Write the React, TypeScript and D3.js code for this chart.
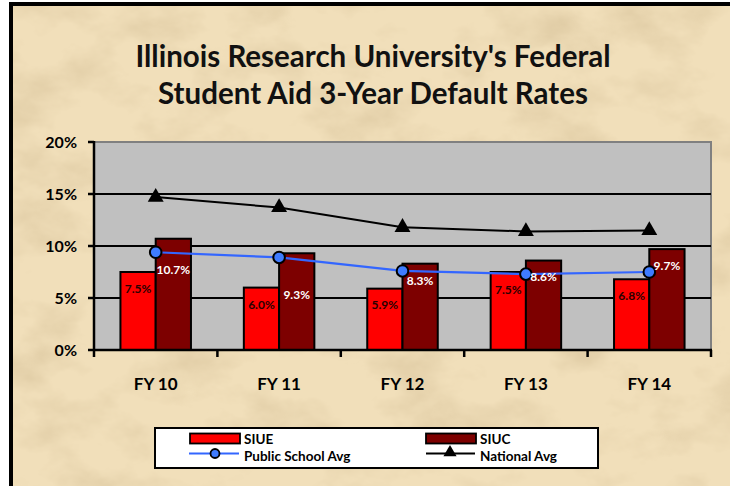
import React, { useEffect } from "react";
import * as d3 from "d3";

const categories = ["FY 10", "FY 11", "FY 12", "FY 13", "FY 14"];
const siue = [7.5, 6.0, 5.9, 7.5, 6.8];
const siuc = [10.7, 9.3, 8.3, 8.6, 9.7];
const publicAvg = [9.4, 8.9, 7.6, 7.3, 7.5];
const nationalAvg = [14.7, 13.7, 11.8, 11.4, 11.5];
const yTicks = [0, 5, 10, 15, 20];
const titleLines = ["Illinois Research University's Federal", "Student Aid 3-Year Default Rates"];
// label placement (styling): distance of label centre below bar top
const siueLabelDrop = [16, 17, 16, 17, 16];
const siucLabelDrop = [31, 41, 17, 16, 16];

const W = 730;
const H = 486;
const plot = { left: 94, right: 711, top: 142, bottom: 350 };
const FONT = "Lato, 'Open Sans', sans-serif";

export default function App() {
  useEffect(() => {
    document.body.style.margin = "0";
  }, []);

  const x = d3
    .scaleBand<string>()
    .domain(categories)
    .range([plot.left, plot.right])
    .paddingInner(1.5 / 3.5)
    .paddingOuter(0.75 / 3.5);
  const xs = d3.scaleBand<string>().domain(["SIUE", "SIUC"]).range([0, x.bandwidth()]);
  const y = d3.scaleLinear().domain([0, 20]).range([plot.bottom, plot.top]);
  const cx = (c: string) => (x(c) as number) + x.bandwidth() / 2;

  const line = d3
    .line<number>()
    .x((_, i) => cx(categories[i]))
    .y((d) => y(d));

  const boundaries = d3.range(categories.length + 1).map((i) => plot.left + i * x.step());
  const tri = d3.symbol().type(d3.symbolTriangle).size(110)();
  const legendTri = d3.symbol().type(d3.symbolTriangle).size(75)();

  return (
    <svg
      width={W}
      height={H}
      style={{ display: "block", position: "absolute", left: 0, top: 0 }}
      fontFamily={FONT}
      fontWeight={700}
    >
      <defs>
        <filter id="paper" x="0" y="0" width="100%" height="100%">
          <feTurbulence type="fractalNoise" baseFrequency="0.013 0.02" numOctaves={5} seed={7} result="n" />
          <feColorMatrix
            in="n"
            type="matrix"
            values="0 0 0 0 0.70  0 0 0 0 0.56  0 0 0 0 0.34  1.7 0 0 0 -0.78"
          />
        </filter>
      </defs>
      <rect x={0} y={0} width={W} height={H} fill="#f1dfba" />
      <rect x={0} y={0} width={W} height={H} fill="#000" filter="url(#paper)" />
      {/* outer border */}
      <rect x={0} y={0} width={9} height={H} fill="#fff" />
      <rect x={0} y={0} width={W} height={2} fill="#fff" />
      <rect x={9} y={2} width={4} height={H} fill="#000" />
      <rect x={9} y={2} width={W} height={4} fill="#000" />

      {/* title */}
      {titleLines.map((t, i) => (
        <text key={t} x={373} y={67 + i * 37} textAnchor="middle" fontSize={29.5} fill="#111">
          {t}
        </text>
      ))}

      {/* plot area */}
      <rect
        x={plot.left}
        y={plot.top}
        width={plot.right - plot.left}
        height={plot.bottom - plot.top}
        fill="#c0c0c0"
        stroke="#808080"
        strokeWidth={2}
      />
      {yTicks
        .filter((t) => t > 0 && t < 20)
        .map((t) => (
          <line key={t} x1={plot.left} x2={plot.right} y1={y(t)} y2={y(t)} stroke="#000" strokeWidth={2} />
        ))}

      {/* bars */}
      {categories.map((c, i) => (
        <g key={c}>
          <rect
            x={(x(c) as number) + (xs("SIUE") as number)}
            y={y(siue[i])}
            width={xs.bandwidth()}
            height={y(0) - y(siue[i])}
            fill="#ff0000"
            stroke="#000"
            strokeWidth={2}
          />
          <rect
            x={(x(c) as number) + (xs("SIUC") as number)}
            y={y(siuc[i])}
            width={xs.bandwidth()}
            height={y(0) - y(siuc[i])}
            fill="#7d0000"
            stroke="#000"
            strokeWidth={2}
          />
        </g>
      ))}

      {/* axes */}
      <line x1={plot.left} x2={plot.left} y1={plot.top - 1} y2={plot.bottom + 1} stroke="#000" strokeWidth={2.5} />
      <line x1={plot.left - 1} x2={plot.right + 1} y1={plot.bottom} y2={plot.bottom} stroke="#000" strokeWidth={2.5} />
      {yTicks.map((t) => (
        <g key={t}>
          <line x1={plot.left - 6} x2={plot.left} y1={y(t)} y2={y(t)} stroke="#000" strokeWidth={2.5} />
          <text x={77} y={y(t) + 6} textAnchor="end" fontSize={16} fill="#000">
            {t}%
          </text>
        </g>
      ))}
      {boundaries.map((b, i) => (
        <line key={i} x1={b} x2={b} y1={plot.bottom} y2={plot.bottom + 7} stroke="#000" strokeWidth={2.5} />
      ))}
      {categories.map((c) => (
        <text key={c} x={cx(c)} y={390} textAnchor="middle" fontSize={17} fill="#000">
          {c}
        </text>
      ))}

      {/* lines */}
      <path d={line(nationalAvg) as string} fill="none" stroke="#000" strokeWidth={2} />
      {nationalAvg.map((v, i) => (
        <path key={i} d={tri as string} transform={`translate(${cx(categories[i])},${y(v)})`} fill="#000" />
      ))}
      <path d={line(publicAvg) as string} fill="none" stroke="#3366ff" strokeWidth={2.2} />
      {publicAvg.map((v, i) => (
        <circle key={i} cx={cx(categories[i])} cy={y(v)} r={5.8} fill="#3f7cff" stroke="#000" strokeWidth={2} />
      ))}

      {/* data labels */}
      {categories.map((c, i) => (
        <g key={c} fontSize={12} textAnchor="middle">
          <text
            x={(x(c) as number) + (xs("SIUE") as number) + xs.bandwidth() / 2}
            y={y(siue[i]) + siueLabelDrop[i] + 4.5}
            fill="#2a0000"
          >
            {siue[i].toFixed(1)}%
          </text>
          <text
            x={(x(c) as number) + (xs("SIUC") as number) + xs.bandwidth() / 2}
            y={y(siuc[i]) + siucLabelDrop[i] + 4.5}
            fill="#fff"
          >
            {siuc[i].toFixed(1)}%
          </text>
        </g>
      ))}

      {/* legend */}
      <rect x={155} y={428} width={443} height={40} fill="#fff" stroke="#000" strokeWidth={2} />
      <rect x={190} y={433.5} width={50} height={10} fill="#ff0000" stroke="#000" strokeWidth={1.8} />
      <text x={244} y={444} fontSize={13.5} fill="#000">SIUE</text>
      <line x1={189} x2={239} y1={453.5} y2={453.5} stroke="#3366ff" strokeWidth={2} />
      <circle cx={215} cy={453.5} r={4.5} fill="#3f7cff" stroke="#000" strokeWidth={1.8} />
      <text x={244} y={460.5} fontSize={13.5} fill="#000">Public School Avg</text>
      <rect x={426} y={433.5} width={50} height={10} fill="#7d0000" stroke="#000" strokeWidth={1.8} />
      <text x={480} y={444} fontSize={13.5} fill="#000">SIUC</text>
      <line x1={426} x2={475} y1={453.5} y2={453.5} stroke="#000" strokeWidth={2} />
      <path d={legendTri as string} transform={`translate(450,452.5)`} fill="#000" />
      <text x={480} y={460.5} fontSize={13.5} fill="#000">National Avg</text>
    </svg>
  );
}
